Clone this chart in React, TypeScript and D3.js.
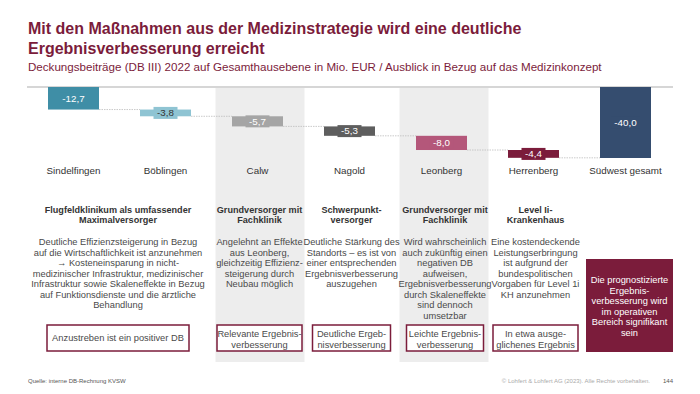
import * as d3 from 'd3';

// Data
const categories = ['Sindelfingen', 'Böblingen', 'Calw', 'Nagold', 'Leonberg', 'Herrenberg', 'Südwest gesamt'];
const values = [-12.7, -3.8, -5.7, -5.3, -8.0, -4.4, -40.0];
const barColors = ['#3f8ea6', '#8fc4d3', '#a5a5a5', '#5e5e5e', '#b4577a', '#7b1c3b', '#354d6f'];
const labelColors = ['#fff', '#333', '#fff', '#fff', '#fff', '#fff', '#fff'];
const shadedCategories = ['Calw', 'Leonberg'];

const sectionSpans = [['Sindelfingen', 'Böblingen'], ['Calw'], ['Nagold'], ['Leonberg'], ['Herrenberg']];
const sectionHeadings = [
    ['Flugfeldklinikum als umfassender', 'Maximalversorger'],
    ['Grundversorger mit', 'Fachklinik'],
    ['Schwerpunkt-', 'versorger'],
    ['Grundversorger mit', 'Fachklinik'],
    ['Level Ii-', 'Krankenhaus'],
];
const sectionBodies = [
    ['Deutliche Effizienzsteigerung in Bezug', 'auf die Wirtschaftlichkeit ist anzunehmen', '\u2192 Kosteneinsparung in nicht-', 'medizinischer Infrastruktur, medizinischer', 'Infrastruktur sowie Skaleneffekte in Bezug', 'auf Funktionsdienste und die ärztliche', 'Behandlung'],
    ['Angelehnt an Effekte', 'aus Leonberg,', 'gleichzeitig Effizienz-', 'steigerung durch', 'Neubau möglich'],
    ['Deutliche Stärkung des', 'Standorts \u2013 es ist von', 'einer entsprechenden', 'Ergebnisverbesserung', 'auszugehen'],
    ['Wird wahrscheinlich', 'auch zukünftig einen', 'negativen DB', 'aufweisen,', 'Ergebnisverbesserung', 'durch Skaleneffekte', 'sind dennoch', 'umsetzbar'],
    ['Eine kostendeckende', 'Leistungserbringung', 'ist aufgrund der', 'bundespolitischen', 'Vorgaben für Level 1i', 'KH anzunehmen'],
];
const sectionVerdicts = [
    ['Anzustreben ist ein positiver DB'],
    ['Relevante Ergebnis-', 'verbesserung'],
    ['Deutliche Ergeb-', 'nisverbesserung'],
    ['Leichte Ergebnis-', 'verbesserung'],
    ['In etwa ausge-', 'glichenes Ergebnis'],
];
const totalNote = ['Die prognostizierte', 'Ergebnis-', 'verbesserung wird', 'im operativen', 'Bereich signifikant', 'sein'];

const FONT = '"Liberation Sans", Arial, Helvetica, sans-serif';
const MAROON = '#7b1c3b';
const boxWidths = [142, 85, 78, 77, 85];
const boxShift = [-1.5, 2, 2, 3.5, 2];

export default function App() {
    const W = 700, H = 394;

    const x = d3.scaleBand<string>().domain(categories).range([27.5, 671.5]).padding(0);
    const y = d3.scaleLinear().domain([0, -40]).range([87, 158]);
    const barW = 51;
    const fmt = d3.formatLocale({ decimal: ',', thousands: '.', grouping: [3], currency: ['', '€'], minus: '-' }).format('.1f');

    // waterfall segments
    let run = 0;
    const bars = categories.map((c, i) => {
        const isTotal = i === categories.length - 1;
        const start = isTotal ? 0 : run;
        const end = isTotal ? values[i] : run + values[i];
        if (!isTotal) run = end;
        return { c, i, start, end, v: values[i] };
    });

    const cx = (c: string) => x(c)! + x.bandwidth() / 2;
    const lh = 10.5;

    return (
        <svg width={W} height={H} style={{ position: 'absolute', left: 0, top: 0, fontFamily: FONT }}>
            <rect width={W} height={H} fill="#fff" />

            {/* title */}
            <text fill={MAROON} fontSize={16} fontWeight="bold">
                <tspan x={28} y={34}>Mit den Maßnahmen aus der Medizinstrategie wird eine deutliche</tspan>
                <tspan x={28} y={53.5}>Ergebnisverbesserung erreicht</tspan>
            </text>
            <text x={28} y={71} fill={MAROON} fontSize={11.6}>
                Deckungsbeiträge (DB III) 2022 auf Gesamthausebene in Mio. EUR / Ausblick in Bezug auf das Medizinkonzept
            </text>

            {/* shaded columns */}
            {shadedCategories.map(c => (
                <rect key={c} x={x(c)! + 4} y={88} width={x.bandwidth() - 3} height={274} fill="#ededed" />
            ))}

            {/* zero line */}
            <line x1={27} x2={673} y1={y(0)} y2={y(0)} stroke="#c8c8c8" strokeWidth={1.5} />

            {/* connectors */}
            {bars.slice(0, -1).map(b => (
                <line key={'l' + b.i}
                    x1={cx(b.c) + barW / 2} x2={cx(categories[b.i + 1]) - barW / 2}
                    y1={y(b.end)} y2={y(b.end)}
                    stroke="#bdbdbd" strokeWidth={0.8} strokeDasharray="1.5,1" />
            ))}

            {/* bars */}
            {bars.map(b => {
                const y0 = y(b.start), y1 = y(b.end);
                const mid = (y0 + y1) / 2;
                const lbl = fmt(b.v);
                const lw = lbl.length * 5 + 4;
                return (
                    <g key={b.c}>
                        <rect x={cx(b.c) - barW / 2} y={Math.min(y0, y1)} width={barW} height={Math.abs(y1 - y0)} fill={barColors[b.i]} />
                        <rect x={cx(b.c) - lw / 2} y={mid - 6} width={lw} height={12} fill={barColors[b.i]} />
                        <text x={cx(b.c)} y={mid + 3.3} textAnchor="middle" fontSize={9.8} fill={labelColors[b.i]}>{lbl}</text>
                        <text x={cx(b.c)} y={173.5} textAnchor="middle" fontSize={9.8} fill="#333">{b.c}</text>
                    </g>
                );
            })}

            {/* sections */}
            {sectionSpans.map((span, si) => {
                const left = x(span[0])!;
                const right = x(span[span.length - 1])! + x.bandwidth();
                const mid = (left + right) / 2 + boxShift[si];
                const boxW = boxWidths[si];
                const verdict = sectionVerdicts[si];
                return (
                    <g key={'s' + si}>
                        <text textAnchor="middle" fontSize={9.1} fontWeight="bold" fill="#333">
                            {sectionHeadings[si].map((t, k) => <tspan key={k} x={mid} y={212.5 + k * lh}>{t}</tspan>)}
                        </text>
                        <text textAnchor="middle" fontSize={9.3} fill="#4a4a4a">
                            {sectionBodies[si].map((t, k) => <tspan key={k} x={mid} y={245.3 + k * lh}>{t}</tspan>)}
                        </text>
                        <rect x={mid - boxW / 2} y={325} width={boxW} height={26} fill="#fff" stroke={MAROON} strokeWidth={1.5} />
                        <text textAnchor="middle" fontSize={9.3} fill="#4a4a4a">
                            {verdict.map((t, k) => (
                                <tspan key={k} x={mid} y={(verdict.length === 1 ? 341.3 : 337) + k * lh}>{t}</tspan>
                            ))}
                        </text>
                    </g>
                );
            })}

            {/* total note */}
            {(() => {
                const c = categories[categories.length - 1];
                const mid = cx(c) + 4;
                return (
                    <g>
                        <rect x={mid - 43.5} y={259} width={87} height={93} fill={MAROON} />
                        <text textAnchor="middle" fontSize={9.3} fill="#fff">
                            {totalNote.map((t, k) => <tspan key={k} x={mid} y={283.3 + k * lh}>{t}</tspan>)}
                        </text>
                    </g>
                );
            })()}

            {/* footer */}
            <text x={28} y={383} fontSize={6} fill="#555">Quelle: interne DB-Rechnung KVSW</text>
            <text x={650} y={383} fontSize={6} fill="#aaa" textAnchor="end">© Lohfert &amp; Lohfert AG (2023). Alle Rechte vorbehalten.</text>
            <text x={673} y={383} fontSize={6} fill="#555" textAnchor="end">144</text>
        </svg>
    );
}
